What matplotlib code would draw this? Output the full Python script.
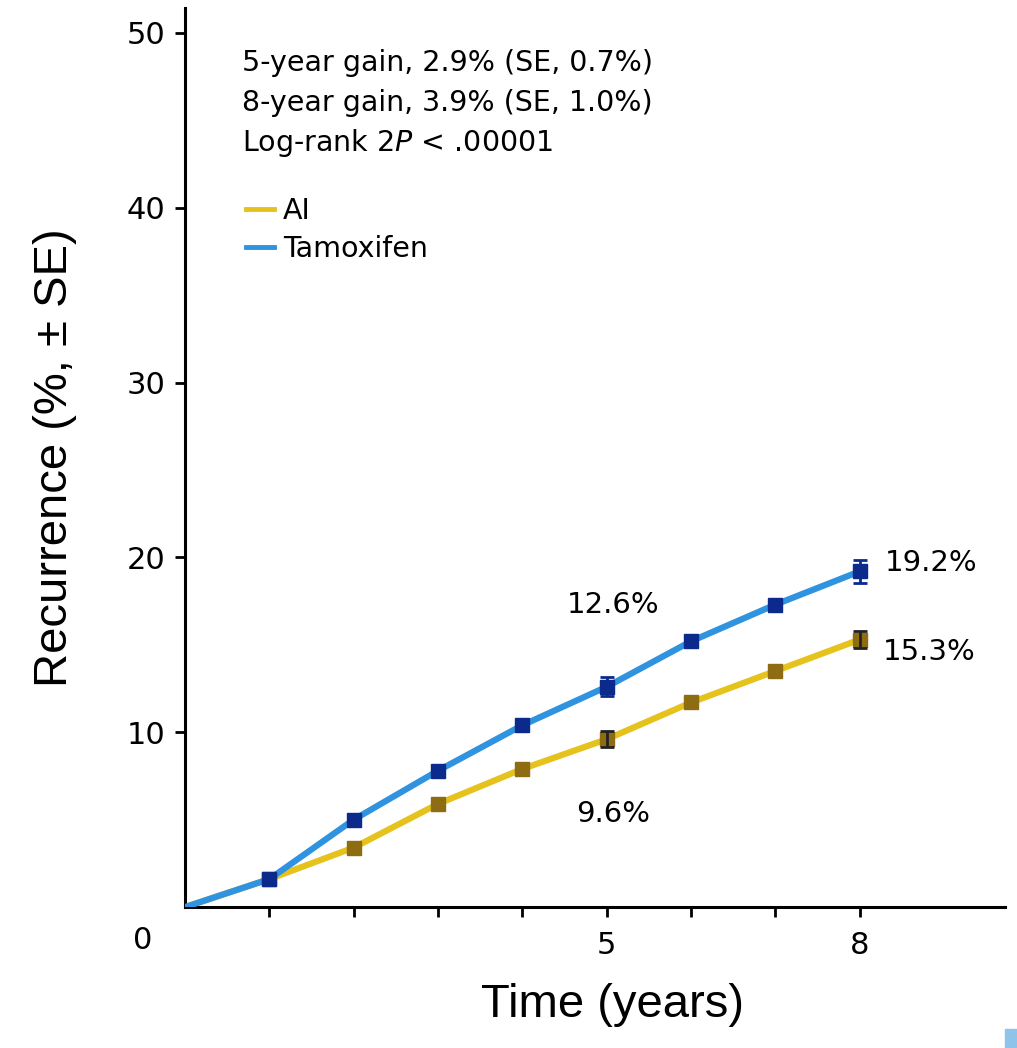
import matplotlib
matplotlib.use("Agg")
import matplotlib.pyplot as plt
from matplotlib.lines import Line2D
from matplotlib.patches import Rectangle

years = [0, 1, 2, 3, 4, 5, 6, 7, 8]
tamoxifen = [0, 1.6, 5.0, 7.8, 10.4, 12.6, 15.2, 17.3, 19.2]
ai = [0, 1.6, 3.4, 5.9, 7.9, 9.6, 11.7, 13.5, 15.3]
err_years = [5, 8]
tam_se = [0.55, 0.65]
ai_se = [0.45, 0.5]
ytick_vals = [10, 20, 30, 40, 50]
xtick_vals = [1, 2, 3, 4, 5, 6, 7, 8]
xtick_labels = ["", "", "", "", "5", "", "", "8"]
stats_lines = ["5-year gain, 2.9% (SE, 0.7%)",
               "8-year gain, 3.9% (SE, 1.0%)",
               r"Log-rank 2$\it{P}$ < .00001"]
value_labels = [("12.6%", 5.08, 17.3, "center"), ("9.6%", 5.08, 5.3, "center"),
                ("19.2%", 8.3, 19.7, "left"), ("15.3%", 8.27, 14.6, "left")]

plt.rcParams['font.family'] = ['Liberation Sans', 'DejaVu Sans']
plt.rcParams['mathtext.fontset'] = 'dejavusans'

BLUE = "#2f93e0"
YELLOW = "#e6c21c"
NAVY = "#0c2a8c"
OLIVE = "#8e6c12"
WIDE = ['DejaVu Sans']

fig = plt.figure(figsize=(10.17, 10.48), dpi=100)
ax = fig.add_axes([0.182, 0.1345, 0.806, 0.8575])

ax.plot(years, ai, color=YELLOW, lw=4.5, zorder=2, solid_capstyle='butt')
ax.plot(years[1:], ai[1:], ls='none', marker='s', ms=10, color=OLIVE, zorder=4)
ax.plot(years, tamoxifen, color=BLUE, lw=4.5, zorder=3, solid_capstyle='butt')
ax.plot(years[1:], tamoxifen[1:], ls='none', marker='s', ms=10, color=NAVY, zorder=5)

ai_err_y = [ai[years.index(x)] for x in err_years]
tam_err_y = [tamoxifen[years.index(x)] for x in err_years]
ax.errorbar(err_years, ai_err_y, yerr=ai_se, fmt='none', ecolor='#222222',
            elinewidth=2, capsize=5, capthick=2, zorder=6)
ax.errorbar(err_years, tam_err_y, yerr=tam_se, fmt='none', ecolor=NAVY,
            elinewidth=2, capsize=5, capthick=2, zorder=6)

ax.set_xlim(0, 9.72)
ax.set_ylim(0, 51.4)
for s in ['top', 'right']:
    ax.spines[s].set_visible(False)
for s in ['left', 'bottom']:
    ax.spines[s].set_linewidth(2.2)
ax.set_yticks(ytick_vals)
ax.set_xticks(xtick_vals)
ax.set_xticklabels(xtick_labels)
ax.tick_params(axis='both', length=7, width=2, labelsize=22, pad=7, colors='black')
ax.tick_params(axis='x', pad=10)
for lbl in ax.get_xticklabels() + ax.get_yticklabels():
    lbl.set_family(WIDE)
ax.text(-0.5, -1.9, "0", fontsize=22, ha='center', va='center', family=WIDE)

ax.set_ylabel("Recurrence (%, ± SE)", fontsize=34, labelpad=36)
ax.set_xlabel("Time (years)", fontsize=34, labelpad=14)
ax.xaxis.set_label_coords(0.521, -0.085)

for i, line in enumerate(stats_lines):
    ax.text(0.68, 48.3 - 2.3 * i, line, fontsize=20.5, ha='left', va='center', family=WIDE)

handles = [Line2D([], [], color=YELLOW, lw=3.5), Line2D([], [], color=BLUE, lw=3.5)]
ax.legend(handles, ["AI", "Tamoxifen"], loc='upper left', bbox_to_anchor=(0.06, 0.803),
          frameon=False, prop={'family': WIDE, 'size': 20.5}, handlelength=1.0,
          handletextpad=0.3, labelspacing=0.35, borderaxespad=0)

for txt, x, y, ha in value_labels:
    ax.text(x, y, txt, fontsize=21, ha=ha, va='center', family=WIDE)

fig.patches.append(Rectangle((0.988, 0.0), 0.012, 0.018, transform=fig.transFigure,
                             color='#8fc3ea', zorder=0))

fig.savefig("out.png", dpi=100, facecolor='white')
